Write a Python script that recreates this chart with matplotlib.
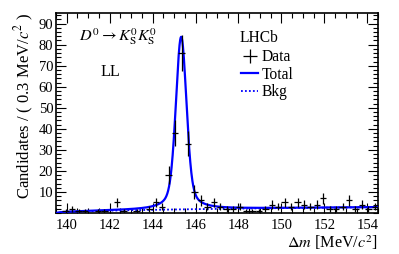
import numpy as np
import matplotlib
matplotlib.use("Agg")
import matplotlib.pyplot as plt
from matplotlib.ticker import MultipleLocator, FixedLocator
from matplotlib.lines import Line2D

plt.rcParams['font.family'] = ['Liberation Serif', 'DejaVu Serif']
plt.rcParams['mathtext.fontset'] = 'stix'

# bin centres (0.3 MeV bins from 139.5 to 154.5) and counts
bin_lo = 139.5
bin_w = 0.3
counts = [0, 1, 2, 1, 1, 0, 1, 1, 0, 5,
          1, 0, 1, 0, 2, 5, 3, 18, 38, 76,
          33, 10, 6, 3, 5, 3, 2, 2, 3, 1,
          1, 1, 2, 4, 3, 5, 3, 5, 4, 3,
          4, 7, 2, 2, 3, 6, 2, 4, 2, 3]

# fit curve parameters
peak_mean = 145.33
core_amp, core_sigma = 55.0, 0.24
tail_amp, tail_gamma = 27.0, 0.35
bkg_thr, bkg_norm = 139.57, 0.72

centres = bin_lo + bin_w * (np.arange(len(counts)) + 0.5)
counts = np.array(counts, dtype=float)

x = np.linspace(139.5, 154.5, 1500)
bkg = bkg_norm * np.sqrt(np.clip(x - bkg_thr, 0, None))
sig = core_amp * np.exp(-0.5 * ((x - peak_mean) / core_sigma) ** 2) \
    + tail_amp / (1 + ((x - peak_mean) / tail_gamma) ** 2)
total = sig + bkg

fig = plt.figure(figsize=(3.99, 2.54), dpi=100)
ax = fig.add_axes([0.1404, 0.1614, 0.807, 0.787])

blue = '#0000ff'
ax.plot(x, bkg, color=blue, linestyle=(0, (1, 1.2)), linewidth=1.3, zorder=2)
ax.plot(x, total, color=blue, linewidth=1.6, zorder=3)

m = counts > 0
ax.errorbar(centres[m], counts[m], xerr=bin_w / 2, yerr=np.sqrt(counts[m]),
            fmt='none', ecolor='black', elinewidth=0.9, capsize=0, zorder=4)

ax.set_xlim(139.5, 154.5)
ax.set_ylim(0, 95)
ax.xaxis.set_major_locator(MultipleLocator(2))
ax.xaxis.set_minor_locator(MultipleLocator(0.5))
ax.yaxis.set_major_locator(FixedLocator(np.arange(10, 91, 10)))
ax.yaxis.set_minor_locator(MultipleLocator(2))
ax.tick_params(which='both', direction='in', top=True, right=True, labelsize=10.5)
ax.tick_params(which='major', length=7, width=0.8)
ax.tick_params(which='minor', length=3.5, width=0.8)
ax.tick_params(axis='x', pad=4)
ax.tick_params(axis='y', pad=2)
for s in ax.spines.values():
    s.set_linewidth(1.2)

ax.set_xlabel(r'$\Delta m$ [MeV/$c^2$]', fontsize=11.6, loc='right', labelpad=1)
ax.set_ylabel(r'Candidates / ( 0.3 MeV/$c^2$ )', fontsize=12, loc='top', labelpad=2)

ax.text(0.072, 0.88, r'$D^0 \rightarrow K^0_{\rm S}K^0_{\rm S}$', transform=ax.transAxes,
        fontsize=11.6, va='center', ha='left')
ax.text(0.137, 0.705, 'LL', transform=ax.transAxes, fontsize=11.6, va='center', ha='left')
ax.text(0.57, 0.875, 'LHCb', transform=ax.transAxes, fontsize=11.2, va='center', ha='left')

handles = [Line2D([], [], color='black', marker='+', markersize=10, linestyle='none', markeredgewidth=0.9),
           Line2D([], [], color=blue, linewidth=1.6),
           Line2D([], [], color=blue, linewidth=1.3, linestyle=(0, (1, 1.2)))]
ax.legend(handles, ['Data', 'Total', 'Bkg'], loc='upper left', bbox_to_anchor=(0.565, 0.835),
          frameon=False, fontsize=11.2, handlelength=1.1, handletextpad=0.2,
          labelspacing=0.1, borderpad=0.2, borderaxespad=0)

fig.savefig('out.png', dpi=100)
